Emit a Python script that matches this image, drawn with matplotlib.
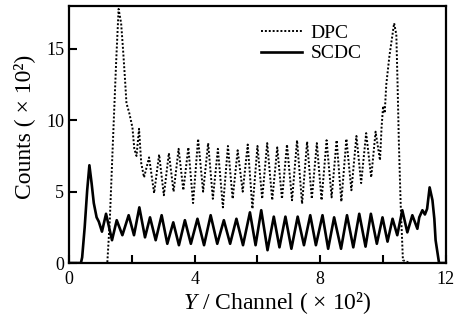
import matplotlib
matplotlib.use("Agg")
import matplotlib.pyplot as plt
from matplotlib.ticker import MultipleLocator

plt.rcParams['font.family'] = ['Liberation Serif', 'DejaVu Serif']
plt.rcParams['mathtext.fontset'] = 'custom'
plt.rcParams['mathtext.rm'] = 'Liberation Serif'
plt.rcParams['mathtext.it'] = 'Liberation Serif:italic'

# SCDC (solid) - x in units of 10^2 channels, counts in 10^2
scdc_x = [0.00, 0.38, 0.42, 0.50, 0.58, 0.65, 0.72, 0.79, 0.88, 0.95, 1.05,
          1.18, 1.37, 1.52, 1.70, 1.90, 2.07, 2.24, 2.42, 2.58, 2.76, 2.95, 3.13,
          3.32, 3.50, 3.69, 3.88, 4.09, 4.30, 4.51, 4.72, 4.93, 5.13, 5.33, 5.54,
          5.76, 5.94, 6.12, 6.32, 6.52, 6.70, 6.89, 7.08, 7.28, 7.48, 7.68, 7.86,
          8.07, 8.25, 8.44, 8.66, 8.85, 9.05, 9.24, 9.44, 9.61, 9.80, 9.98, 10.14,
          10.30, 10.45, 10.61, 10.77, 10.93, 11.09, 11.15, 11.25, 11.33, 11.40,
          11.48, 11.57, 11.63, 11.67, 11.78, 12.00]
scdc_y = [0.00, 0.00, 0.4, 2.5, 5.1, 6.85, 5.6, 4.2, 3.2, 2.9, 2.2,
          3.45, 1.6, 3.0, 1.95, 3.35, 1.95, 3.9, 1.8, 3.2, 1.6, 3.35, 1.35,
          2.85, 1.25, 3.0, 1.35, 3.1, 1.25, 3.35, 1.35, 3.0, 1.35, 3.1, 1.25,
          3.55, 1.25, 3.7, 0.9, 3.25, 1.1, 3.25, 1.0, 3.25, 1.25, 3.35, 1.25,
          3.35, 1.0, 3.2, 1.0, 3.35, 1.1, 3.45, 1.15, 3.45, 1.35, 3.2, 1.5,
          3.1, 1.95, 3.7, 2.15, 3.35, 2.4, 3.2, 3.7, 3.4, 3.8,
          5.3, 4.4, 3.1, 1.6, 0.0, 0.0]

# DPC (dotted)
dpc_x = [1.00, 1.22, 1.30, 1.39, 1.50, 1.58, 1.66, 1.72, 1.78, 1.83, 1.92,
         2.02, 2.08, 2.15, 2.23, 2.30, 2.39,
         2.55, 2.71, 2.87, 3.02, 3.18, 3.33, 3.49, 3.64, 3.80, 3.95, 4.11, 4.27,
         4.43, 4.58, 4.74, 4.90, 5.06, 5.21, 5.37, 5.53, 5.69, 5.84, 6.00, 6.15,
         6.31, 6.47, 6.63, 6.78, 6.94, 7.10, 7.26, 7.42, 7.58, 7.73, 7.89, 8.04,
         8.20, 8.36, 8.52, 8.67, 8.83, 8.99, 9.15, 9.30, 9.46, 9.62, 9.76, 9.90,
         9.95, 10.00, 10.05, 10.10, 10.20, 10.35, 10.42, 10.46, 10.50, 10.56,
         10.63, 10.85]
dpc_y = [0.0, 0.0, 3.0, 8.0, 14.0, 17.8, 16.8, 15.0, 13.0, 11.2, 10.5,
         9.5, 8.0, 7.5, 9.4, 7.0, 6.0,
         7.4, 4.9, 7.6, 4.75, 7.7, 5.0, 8.0, 5.1, 8.1, 4.2, 8.7, 5.0,
         8.4, 4.5, 8.0, 3.9, 8.2, 4.5, 7.9, 5.0, 8.3, 3.8, 8.2, 4.5,
         8.4, 4.4, 8.1, 4.5, 8.3, 4.4, 8.6, 4.15, 8.5, 4.5, 8.4, 4.4,
         8.6, 4.6, 8.6, 4.3, 8.7, 5.1, 8.9, 5.6, 9.1, 6.0, 9.2, 7.2,
         9.5, 11.0, 10.5, 12.5, 14.5, 16.8, 16.0, 12.5, 8.5, 4.0,
         0.2, 0.0]

fig = plt.figure(figsize=(4.66, 3.20), dpi=100)
ax = fig.add_axes([0.148, 0.178, 0.809, 0.803])

ax.plot(dpc_x, dpc_y, color='black', linestyle=(0, (1, 1)), linewidth=1.4,
        label='DPC')
ax.plot(scdc_x, scdc_y, color='black', linestyle='-', linewidth=1.9,
        solid_joinstyle='round', label='SCDC')

ax.set_xlim(0, 12)
ax.set_ylim(0, 18)
ax.xaxis.set_major_locator(MultipleLocator(4))
ax.xaxis.set_minor_locator(MultipleLocator(2))
ax.set_yticks([0, 5, 10, 15])

for s in ax.spines.values():
    s.set_linewidth(1.6)
ax.tick_params(axis='both', which='both', direction='in', width=1.5, labelsize=13)
ax.tick_params(axis='both', which='major', length=6)
ax.tick_params(axis='x', which='minor', length=6)
ax.tick_params(axis='x', pad=6)

ax.set_xlabel('$Y$ / Channel ( × 10²)', fontsize=17)
ax.set_ylabel('Counts ( × 10²)', fontsize=17)
ax.xaxis.set_label_coords(0.553, -0.105)
ax.yaxis.set_label_coords(-0.09, 0.531)

leg = ax.legend(loc='upper left', bbox_to_anchor=(0.463, 0.997), frameon=False,
                fontsize=14, handlelength=2.1, handletextpad=0.45,
                labelspacing=0.15, borderaxespad=0.5)

fig.savefig('out.png', dpi=100)
